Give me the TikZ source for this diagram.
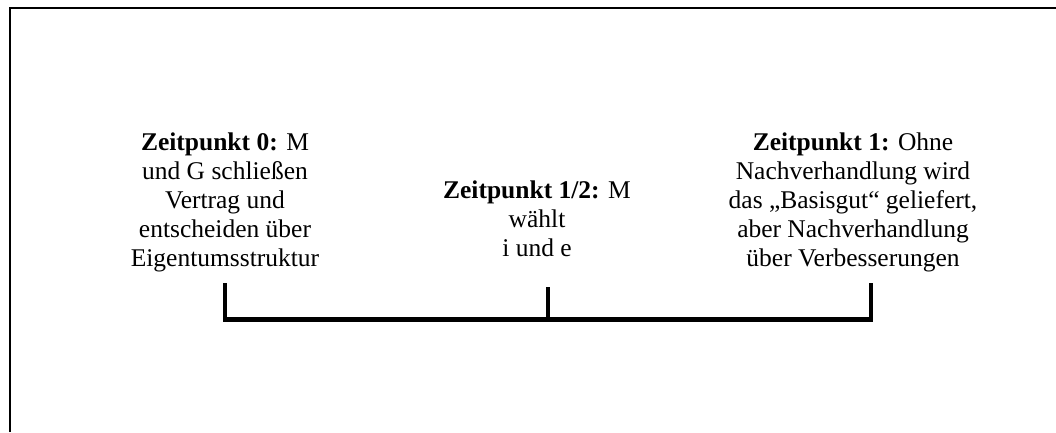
\documentclass[tikz,border=0pt]{standalone}
\usepackage{fontspec}
\setmainfont{Liberation Serif}
\begin{document}
\begin{tikzpicture}[x=1pt,y=-1pt,
  frame/.style={line width=2pt,black},
  axis/.style={line width=5pt,black},
  tick/.style={line width=4pt,black},
  label/.style={anchor=north,inner sep=0pt,align=center,
    font=\fontsize{25.5pt}{29pt}\selectfont}]
\useasboundingbox (0,0) rectangle (1056,432);
\draw[frame] (10,432) -- (10,8) -- (1056,8);
\node[label] (z0) at (225,132.5) {\textbf{Zeitpunkt 0:} M\\und G schließen\\Vertrag und\\entscheiden über\\Eigentumsstruktur};
\node[label] (zh) at (537,180.5) {\textbf{Zeitpunkt 1/2:} M\\wählt\\i und e};
\node[label] (z1) at (853,132.5) {\textbf{Zeitpunkt 1:} Ohne\\Nachverhandlung wird\\das „Basisgut“ geliefert,\\aber Nachverhandlung\\über Verbesserungen};
\coordinate (t0) at (225,319);
\coordinate (th) at (548,319);
\coordinate (t1) at (871,319);
\draw[axis] ([xshift=-2pt]t0) -- ([xshift=2pt]t1);
\draw[tick] ([yshift=2.5pt]t0) -- ++(0,-34);
\draw[tick] (th) -- ++(0,-32);
\draw[tick] ([yshift=2.5pt]t1) -- ++(0,-34);
\end{tikzpicture}
\end{document}
